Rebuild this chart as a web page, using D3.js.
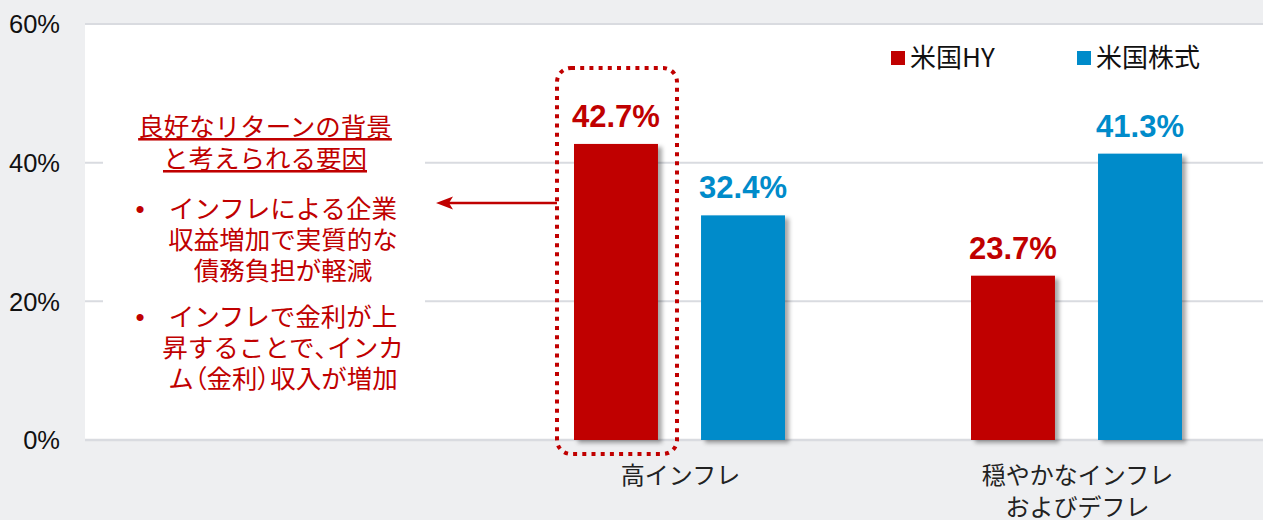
<!DOCTYPE html>
<html><head><meta charset="utf-8">
<script src="https://cdn.jsdelivr.net/npm/d3@7"></script>
<style>
html,body{margin:0;padding:0;background:#eeeff1;}
svg{display:block;}
text{font-family:"Liberation Sans",Arial,"Noto Sans CJK JP",sans-serif;}
.jp{font-family:"Noto Sans CJK JP","Liberation Sans",sans-serif;}
.palt{font-feature-settings:"palt" 1;}
</style>
</head><body>
<svg id="chart" width="1263" height="520"></svg>
<script>
const categories = ["高インフレ", "穏やかなインフレ\nおよびデフレ"];
const seriesNames = ["米国HY", "米国株式"];
const hyValues = [42.7, 23.7];
const equityValues = [32.4, 41.3];
const yTicks = [0, 20, 40, 60];
const colors = ["#c00000", "#008bca"];
const noteTitle = ["良好なリターンの背景", "と考えられる要因"];
const bullets = [
  ["インフレによる企業", "収益増加で実質的な", "債務負担が軽減"],
  ["インフレで金利が上", "昇することで、インカ", "ム（金利）収入が増加"]
];

const svg = d3.select("#chart");
const W = 1263, H = 520;
const plotL = 85, plotR = 1263, plotT = 24, plotB = 440;

const defs = svg.append("defs");
const f = defs.append("filter").attr("id","shadow").attr("x","-10%").attr("y","-10%").attr("width","130%").attr("height","130%");
f.append("feDropShadow").attr("dx",4).attr("dy",3).attr("stdDeviation",2)
  .attr("flood-color","#000").attr("flood-opacity",0.35);

svg.append("rect").attr("width",W).attr("height",H).attr("fill","#eeeff1");
svg.append("rect").attr("x",plotL).attr("y",plotT).attr("width",plotR-plotL).attr("height",plotB-plotT).attr("fill","#fff");

const y = d3.scaleLinear().domain([0,60]).range([plotB, plotT]);
const x0 = d3.scaleBand().domain(categories).range([482, 1276]);
const x1 = d3.scaleBand().domain(seriesNames).range([92, 303]).paddingInner(0.339).paddingOuter(0);

// gridlines
svg.append("g").selectAll("line").data(yTicks).join("line")
  .attr("x1",plotL).attr("x2",plotR)
  .attr("y1",d=>y(d)).attr("y2",d=>y(d))
  .attr("stroke","#d9dbe0").attr("stroke-width",d=>d===0?2.5:2);

// y labels
svg.append("g").selectAll("text").data(yTicks).join("text")
  .attr("x",60).attr("y",d=>y(d)).attr("dy","0.36em")
  .attr("text-anchor","end").attr("font-size",25.5).attr("fill","#111")
  .text(d=>d+"%");

// note box background covering gridlines
svg.append("rect").attr("x",103).attr("y",105).attr("width",322).attr("height",295).attr("fill","#fff");

// bars
const data = categories.map((c,i)=>({cat:c, vals:[hyValues[i], equityValues[i]]}));
const groups = svg.append("g").selectAll("g").data(data).join("g")
  .attr("transform",d=>`translate(${x0(d.cat)},0)`);
groups.selectAll("rect").data(d=>d.vals.map((v,j)=>({s:seriesNames[j], v, j}))).join("rect")
  .attr("x",d=>x1(d.s)).attr("width",x1.bandwidth())
  .attr("y",d=>y(d.v)).attr("height",d=>y(0)-y(d.v))
  .attr("fill",d=>colors[d.j]).attr("filter","url(#shadow)");
groups.selectAll("text.val").data(d=>d.vals.map((v,j)=>({s:seriesNames[j], v, j}))).join("text")
  .attr("class","val")
  .attr("x",d=>x1(d.s)+x1.bandwidth()/2).attr("y",d=>y(d.v)-17)
  .attr("text-anchor","middle").attr("font-size",31).attr("font-weight","bold")
  .attr("fill",d=>colors[d.j]).text(d=>d.v.toFixed(1)+"%");

// category labels
svg.append("g").selectAll("text").data(categories).join("text")
  .attr("class","jp")
  .attr("text-anchor","middle").attr("font-size",24).attr("fill","#222")
  .attr("transform",d=>`translate(${x0(d)+x0.bandwidth()/2},484)`)
  .each(function(d){
    const t = d3.select(this);
    d.split("\n").forEach((line,i)=>{
      t.append("tspan").attr("x",0).attr("y",i*32).text(line);
    });
  });

// legend
const lg = svg.append("g");
const legX = [891, 1077];
seriesNames.forEach((s,i)=>{
  lg.append("rect").attr("x",legX[i]).attr("y",51).attr("width",14).attr("height",14).attr("fill",colors[i]);
  lg.append("text").attr("class","jp").attr("x",legX[i]+19).attr("y",58).attr("dy","0.36em")
    .attr("font-size",26).attr("fill","#111").text(s);
});

// highlight dotted box around first HY bar
svg.append("rect")
  .attr("x",557).attr("y",68).attr("width",120).attr("height",386)
  .attr("rx",14).attr("ry",14)
  .attr("fill","none").attr("stroke","#c00000").attr("stroke-width",4)
  .attr("stroke-dasharray","4 5.2");

// arrow
svg.append("line").attr("x1",557).attr("x2",448).attr("y1",203).attr("y2",203)
  .attr("stroke","#c00000").attr("stroke-width",2.5);
svg.append("path").attr("d","M436,203 L453,196.5 L449,203 L453,209.5 Z").attr("fill","#c00000");

// note text (punctuation rendered proportionally)
function addLine(sel, str){
  const parts = str.split(/([、（）])/).filter(p=>p.length);
  parts.forEach(p=>{
    const ts = sel.append("tspan").text(p);
    if (/^[、（）]$/.test(p)) ts.attr("class","palt");
  });
}
const red = "#c00000";
const nt = svg.append("g").attr("class","jp").attr("fill",red).attr("font-size",25.5);
noteTitle.forEach((line,i)=>{
  nt.append("text").attr("x",265).attr("y",136+i*32).attr("text-anchor","middle")
    .attr("text-decoration","underline").text(line);
});
const bulletTop = [218, 326];
bullets.forEach((b,bi)=>{
  nt.append("text").attr("x",140).attr("y",bulletTop[bi]).attr("text-anchor","middle").attr("font-size",26).text("•");
  b.forEach((line,i)=>{
    const t = nt.append("text").attr("x",283).attr("y",bulletTop[bi]+i*31).attr("text-anchor","middle");
    addLine(t, line);
  });
});
</script>
</body></html>
